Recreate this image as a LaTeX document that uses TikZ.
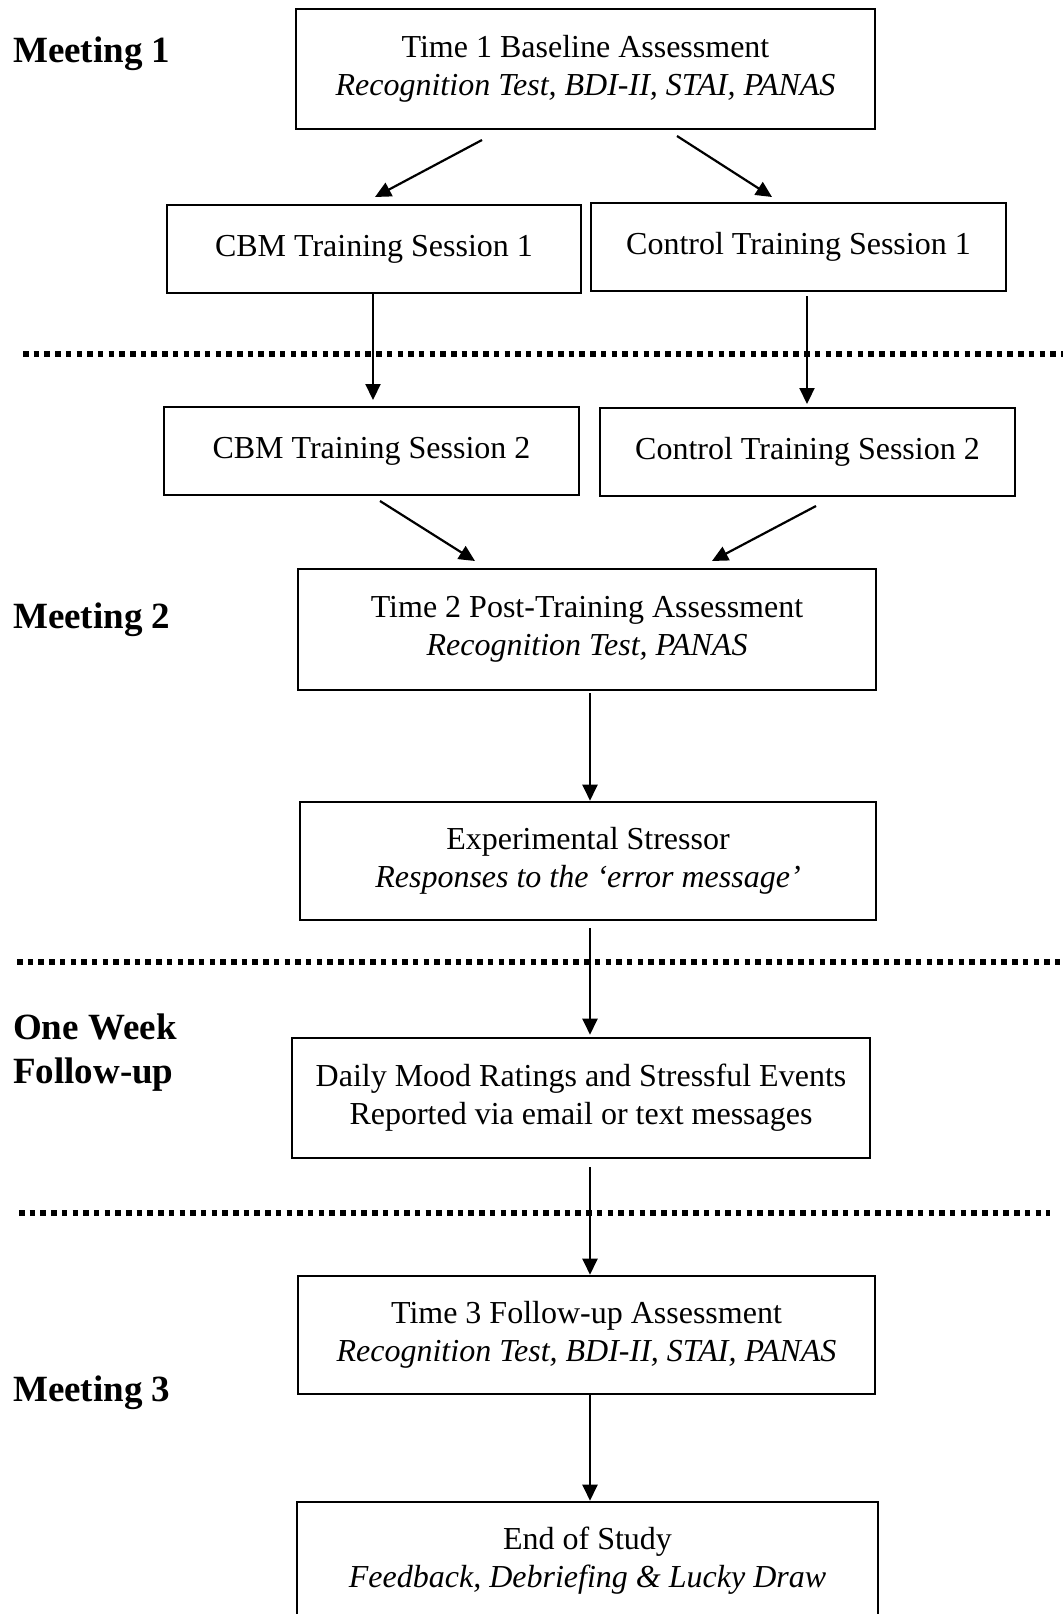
\documentclass[tikz,border=0pt]{standalone}
\usepackage{fontspec}
\setmainfont{Liberation Serif}
\usetikzlibrary{arrows.meta,calc}
\tikzset{
  box/.style={draw, line width=2.6pt, inner sep=0pt, align=center,
    font=\fontsize{32}{38}\selectfont},
  lab/.style={anchor=base west, inner sep=0pt, align=left,
    font=\fontsize{37}{44}\selectfont\bfseries},
  arr/.style={line width=2.2pt, -{Triangle[length=16pt,width=15pt]}},
  dots/.style={line width=5.5pt, dash pattern=on 5.5pt off 5.2pt},
}
\begin{document}
\begin{tikzpicture}[x=1pt,y=-1pt]
\useasboundingbox[fill=white] (0,0) rectangle (1063,1614);

% boxes
\node[box, minimum width=579pt, minimum height=120pt] (t1) at (585.5,69)
  {Time 1 Baseline Assessment\\ \textit{Recognition Test, BDI-II, STAI, PANAS}};
\node[box, minimum width=414pt, minimum height=88pt] (cbm1) at (374,249) {CBM Training Session 1};
\node[box, minimum width=415pt, minimum height=88pt] (ctl1) at (798.5,247) {Control Training Session 1};
\node[box, minimum width=415pt, minimum height=88pt] (cbm2) at (371.5,451) {CBM Training Session 2};
\node[box, minimum width=415pt, minimum height=88pt] (ctl2) at (807.5,452) {Control Training Session 2};
\node[box, minimum width=578pt, minimum height=121pt] (t2) at (587,629.5)
  {Time 2 Post-Training Assessment\\ \textit{Recognition Test, PANAS}};
\node[box, minimum width=576pt, minimum height=118pt] (exp) at (588,861)
  {Experimental Stressor\\ \textit{Responses to the `error message'}};
\node[box, minimum width=578pt, minimum height=120pt] (daily) at (581,1098)
  {Daily Mood Ratings and Stressful Events\\ Reported via email or text messages};
\node[box, minimum width=577pt, minimum height=118pt] (t3) at (586.5,1335)
  {Time 3 Follow-up Assessment\\ \textit{Recognition Test, BDI-II, STAI, PANAS}};
\node[box, minimum width=581pt, minimum height=118pt] (end) at (587.5,1561)
  {End of Study\\ \textit{Feedback, Debriefing \& Lucky Draw}};

% side labels
\node[lab] (m1) at (13,62) {Meeting 1};
\node[lab] (m2) at (13,628) {Meeting 2};
\node[lab] (ow) at (13,1083) {One Week\\Follow-up};
\node[lab] (m3) at (13,1401) {Meeting 3};

% dotted separators
\coordinate (d1a) at (23,354);  \coordinate (d1b) at (1063,354);
\coordinate (d2a) at (17,962);  \coordinate (d2b) at (1063,962);
\coordinate (d3a) at (19,1213); \coordinate (d3b) at (1050,1213);
\draw[dots] (d1a) -- (d1b);
\draw[dots] (d2a) -- (d2b);
\draw[dots] (d3a) -- (d3b);

% arrow end points
\coordinate (a1s) at (482,140); \coordinate (a1e) at (375,197);
\coordinate (a2s) at (677,136); \coordinate (a2e) at (772,197);
\coordinate (a3s) at (373,293); \coordinate (a3e) at (373,400);
\coordinate (a4s) at (807,296); \coordinate (a4e) at (807,404);
\coordinate (a5s) at (380,501); \coordinate (a5e) at (475,561);
\coordinate (a6s) at (816,506); \coordinate (a6e) at (712,561);
\coordinate (xm) at (590,0);

\draw[arr] (a1s) -- (a1e);
\draw[arr] (a2s) -- (a2e);
\draw[arr] (a3s) -- (a3e);
\draw[arr] (a4s) -- (a4e);
\draw[arr] (a5s) -- (a5e);
\draw[arr] (a6s) -- (a6e);
\draw[arr, shorten <=2pt] (t2.south -| xm) -- (exp.north -| xm);
\draw[arr, shorten <=7pt, shorten >=2pt] (exp.south -| xm) -- (daily.north -| xm);
\draw[arr, shorten <=8pt] (daily.south -| xm) -- (t3.north -| xm);
\draw[arr] (t3.south -| xm) -- (end.north -| xm);
\end{tikzpicture}
\end{document}
